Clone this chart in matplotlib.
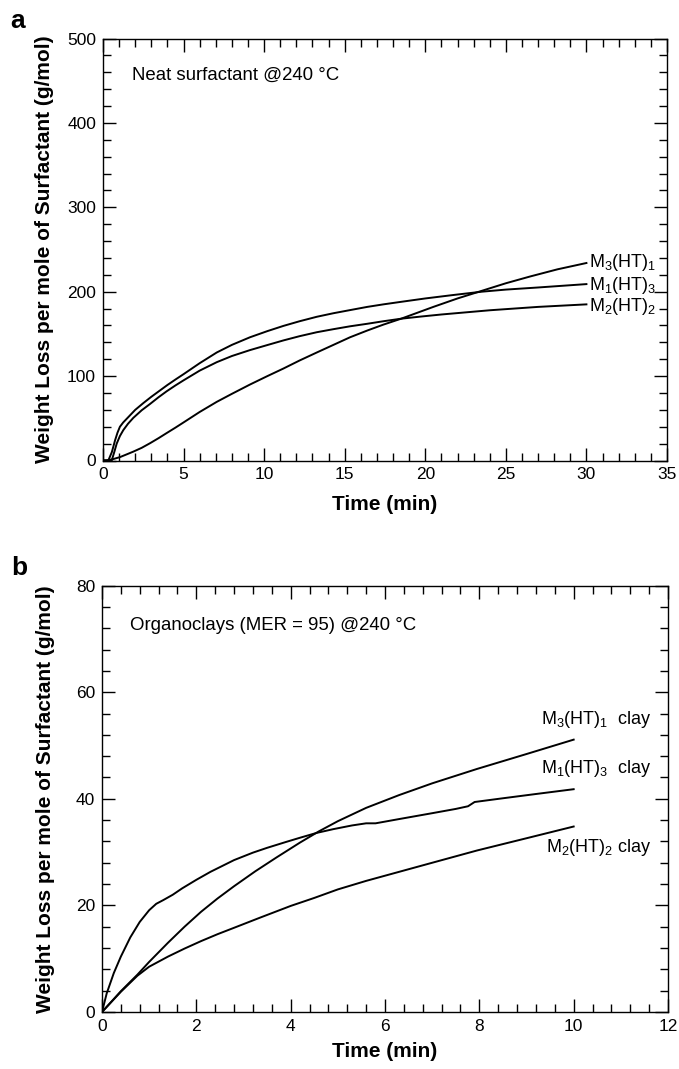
import matplotlib
matplotlib.use("Agg")
import matplotlib.pyplot as plt
from matplotlib.ticker import MultipleLocator

plt.rcParams['font.family'] = ['Liberation Sans', 'DejaVu Sans']
plt.rcParams['mathtext.fontset'] = 'custom'
plt.rcParams['mathtext.rm'] = 'Liberation Sans'
plt.rcParams['mathtext.it'] = 'Liberation Sans:italic'
plt.rcParams['mathtext.bf'] = 'Liberation Sans:bold'
plt.rcParams['mathtext.default'] = 'regular'

# ---- Panel a: neat surfactant @240 C ----
a_m1_t = [0, 0.33, 0.55, 0.75, 0.9, 1.05, 1.25, 1.5, 2.0, 2.5, 3.0, 3.5, 4.0, 4.5, 5.0, 6.0, 7.06, 8.0,
          9.12, 10.2, 11.2, 12.2, 13.27, 14.3, 15.33, 16.4, 17.4, 18.5, 20, 21.7, 23.5, 25, 27, 28.5, 30]
a_m1_y = [0, 0, 10, 24, 33, 40, 45, 50, 60, 68, 75.5, 82.5, 89.5, 96, 102.3, 115.3, 128, 137,
          146, 153.3, 159.5, 165, 170.3, 174.5, 178.2, 182, 185, 188, 192, 196, 200, 202.5, 205, 207, 209]
a_m2_t = [0, 0.54, 0.7, 0.85, 1.05, 1.26, 1.55, 1.88, 2.4, 2.92, 3.45, 3.95, 4.5, 5.0, 6.0, 7.06, 8.0,
          9.12, 10.2, 11.2, 12.2, 13.27, 14.3, 15.33, 16.4, 17.4, 18.5, 19.7, 21, 22.5, 24, 25.5, 27, 28.5, 30]
a_m2_y = [0, 0, 10, 20, 29, 36, 43.5, 50.5, 59.5, 67, 75, 82, 89, 95, 106.5, 116.5, 123.8,
          130.8, 136.8, 142.3, 147.3, 152, 155.6, 159, 162, 165, 168, 170.5, 173, 175.5, 178, 180, 182, 183.5, 185]
a_m3_t = [0, 0.2, 0.6, 1.05, 1.5, 1.88, 2.4, 2.92, 3.45, 3.95, 4.5, 4.99, 6.0, 7.06, 8.0, 9.12, 10.2,
          11.2, 12.2, 13.27, 14.3, 15.33, 16.4, 17.4, 18.5, 19.5, 20.5, 22, 23.5, 25, 26.5, 28.2, 30]
a_m3_y = [0, 0, 1.5, 4, 7.5, 10.5, 15, 20.5, 26.5, 32.5, 39, 45, 57.5, 69.5, 79, 90, 100,
          109, 118.5, 128, 137, 146, 154, 161, 168, 175, 182, 192, 201, 210, 218, 226.5, 234]
a_labels = [r'M$_3$(HT)$_1$', r'M$_1$(HT)$_3$', r'M$_2$(HT)$_2$']
a_label_y = [235, 207.5, 183]

# ---- Panel b: organoclays (MER = 95) @240 C ----
b_m1_t = [0, 0.1, 0.25, 0.4, 0.6, 0.8, 1.0, 1.15, 1.3, 1.5, 1.7, 2.0, 2.3, 2.8, 3.2, 3.5, 3.9, 4.2, 4.55,
          4.9, 5.3, 5.6, 5.8, 6.3, 7.0, 7.5, 7.76, 7.9, 8.5, 9.2, 10]
b_m1_y = [0, 3.5, 7.3, 10.4, 14.0, 16.9, 19.1, 20.3, 21.0, 22.0, 23.2, 24.8, 26.3, 28.5, 29.9, 30.8, 31.9, 32.7, 33.6,
          34.3, 35.0, 35.4, 35.4, 36.2, 37.3, 38.1, 38.6, 39.4, 40.1, 40.9, 41.8]
b_m3_t = [0, 0.4, 0.75, 1.0, 1.4, 1.75, 2.1, 2.45, 2.8, 3.25, 3.7, 4.2, 4.6, 5.0, 5.6, 6.3, 7.0, 7.95, 9.0, 10.0]
b_m3_y = [0, 3.9, 7.0, 9.4, 13.0, 16.0, 18.8, 21.3, 23.6, 26.4, 29.0, 31.8, 33.9, 35.8, 38.3, 40.7, 42.9, 45.6, 48.4, 51.1]
b_m2_t = [0, 0.4, 0.75, 1.0, 1.4, 1.75, 2.1, 2.45, 2.8, 3.35, 4.0, 4.5, 5.0, 5.6, 6.3, 7.0, 7.95, 9.0, 10.0]
b_m2_y = [0, 3.8, 6.8, 8.5, 10.4, 11.9, 13.3, 14.6, 15.8, 17.7, 19.9, 21.4, 23.0, 24.6, 26.3, 28.0, 30.3, 32.6, 34.8]
b_labels = [r'M$_3$(HT)$_1$  clay', r'M$_1$(HT)$_3$  clay', r'M$_2$(HT)$_2$ clay']
b_label_y = [54.8, 45.6, 30.9]

W, H = 679, 1069
fig = plt.figure(figsize=(W / 100, H / 100), dpi=100)

ax_a = fig.add_axes([103 / W, 1 - 460.5 / H, 564 / W, 422 / H])
ax_b = fig.add_axes([102 / W, 1 - 1012 / H, 566 / W, 426.4 / H])

lw = 1.4
for t, y in [(a_m1_t, a_m1_y), (a_m2_t, a_m2_y), (a_m3_t, a_m3_y)]:
    ax_a.plot(t, y, color='black', lw=lw, solid_joinstyle='round')
for t, y in [(b_m1_t, b_m1_y), (b_m2_t, b_m2_y), (b_m3_t, b_m3_y)]:
    ax_b.plot(t, y, color='black', lw=lw, solid_joinstyle='round')

ax_a.set_xlim(0, 35)
ax_a.set_ylim(0, 500)
ax_a.xaxis.set_major_locator(MultipleLocator(5))
ax_a.xaxis.set_minor_locator(MultipleLocator(1))
ax_a.yaxis.set_major_locator(MultipleLocator(100))
ax_a.yaxis.set_minor_locator(MultipleLocator(20))

ax_b.set_xlim(0, 12)
ax_b.set_ylim(0, 80)
ax_b.xaxis.set_major_locator(MultipleLocator(2))
ax_b.xaxis.set_minor_locator(MultipleLocator(0.4))
ax_b.yaxis.set_major_locator(MultipleLocator(20))
ax_b.yaxis.set_minor_locator(MultipleLocator(4))

ylabel = 'Weight Loss per mole of Surfactant (g/mol)'
for ax, xl_y in [(ax_a, -0.105), (ax_b, -0.092)]:
    ax.tick_params(which='both', direction='in', top=True, right=True, width=1.0,
                   labelsize=12.5, pad=5)
    ax.tick_params(which='major', length=9.5)
    ax.tick_params(which='minor', length=6)
    for s in ax.spines.values():
        s.set_linewidth(1.0)
    ax.set_xlabel('Time (min)', fontsize=15, fontweight='bold')
    ax.xaxis.label.set_va('center')
    ax.xaxis.set_label_coords(0.5, xl_y)
    ax.set_ylabel(ylabel, fontsize=15, fontweight='bold')
    ax.yaxis.label.set_va('center')

ax_a.yaxis.set_label_coords(-0.103, 0.5)
ax_b.yaxis.set_label_coords(-0.100, 0.5)

ax_a.text(1.8, 456, 'Neat surfactant @240 °C', fontsize=13.4, ha='left', va='center')
ax_b.text(0.59, 72.6, 'Organoclays (MER = 95) @240 °C', fontsize=13.4, ha='left', va='center')

for lab, yy in zip(a_labels, a_label_y):
    ax_a.text(30.15, yy, lab, fontsize=13, ha='left', va='center')
for lab, yy in zip(b_labels, b_label_y):
    ax_b.text(11.65, yy, lab, fontsize=13, ha='right', va='center')

fig.text(18 / W, 1 - 21 / H, 'a', fontsize=19, fontweight='bold', ha='center', va='center')
fig.text(19 / W, 1 - 568 / H, 'b', fontsize=19, fontweight='bold', ha='center', va='center')

fig.savefig('out.png', dpi=100)
